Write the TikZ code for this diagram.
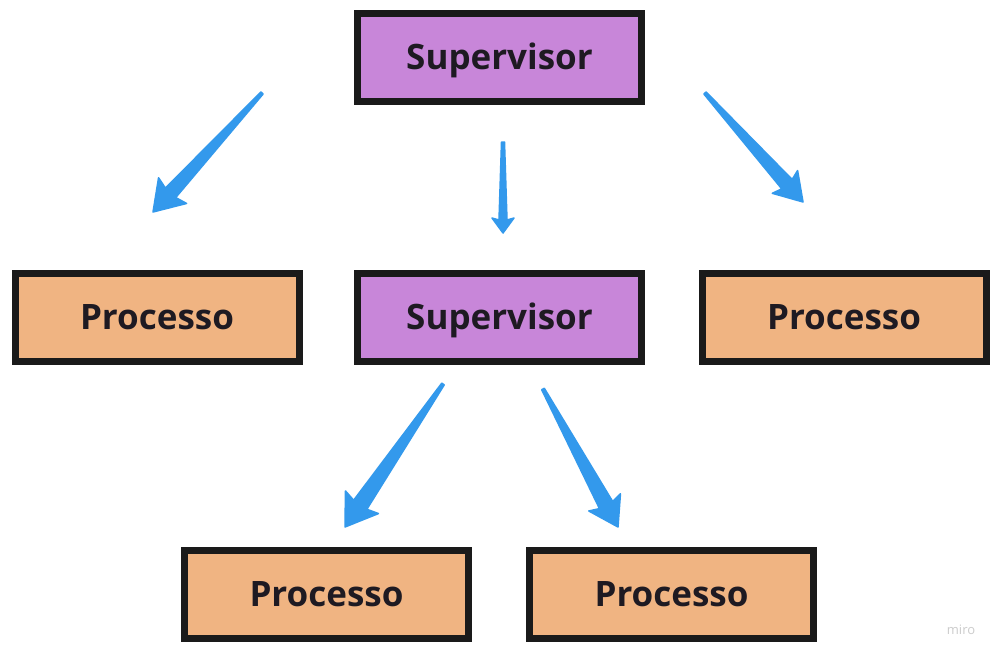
\documentclass[tikz,border=0pt]{standalone}
\usepackage{fontspec}
\setmainfont{Open Sans}
\usetikzlibrary{calc}
\definecolor{supfill}{HTML}{C886D9}
\definecolor{procfill}{HTML}{F0B482}
\definecolor{boxline}{HTML}{1A1A1A}
\definecolor{txt}{HTML}{1E1A22}
\definecolor{arrowblue}{HTML}{3399EC}
\definecolor{watermark}{HTML}{CCCCCC}
\tikzset{
  box/.style={draw=boxline, line width=7pt, minimum width=284pt, minimum height=88pt,
    inner sep=0pt, text height=23pt, text depth=0pt,
    font=\fontsize{35}{42}\selectfont\bfseries, text=txt},
  sup/.style={box, fill=supfill},
  proc/.style={box, fill=procfill},
  arrowfill/.style={fill=arrowblue, draw=arrowblue, line width=1.5pt, line join=round}
}
% #1 tail, #2 tip, #3 head length, #4 barb sweep length, #5 head half width, #6 shaft half width
\newcommand\taparrow[6]{%
  \path ($(#2)!#3pt!(#1)$) coordinate (hb) ($(#2)!#4pt!(#1)$) coordinate (hc);
  \filldraw[arrowfill]
    ($(#1)!1.5pt!90:(#2)$) -- ($(hb)!#6pt!90:(#2)$) -- ($(hc)!#5pt!90:(#2)$) -- (#2)
    -- ($(hc)!#5pt!-90:(#2)$) -- ($(hb)!#6pt!-90:(#2)$) -- ($(#1)!1.5pt!-90:(#2)$) -- cycle;
}
\begin{document}
\begin{tikzpicture}[x=1pt,y=-1pt]
\useasboundingbox[fill=white] (0,0) rectangle (1000,658);
\node[sup]  (s1) at (499.5,58)    {Supervisor};
\node[sup]  (s2) at (499.5,317.5) {Supervisor};
\node[proc] (p1) at (157,317.5)   {Processo};
\node[proc] (p2) at (844,317.5)   {Processo};
\node[proc] (p3) at (326.5,594.5) {Processo};
\node[proc] (p4) at (671.5,594.5) {Processo};
\node[text=watermark, font=\fontsize{13}{15}\selectfont] (wm) at (961,630) {miro};
\coordinate (a1s) at (262,93);  \coordinate (a1e) at (153,212);
\coordinate (a2s) at (503,142); \coordinate (a2e) at (503,233);
\coordinate (a3s) at (705,93);  \coordinate (a3e) at (803,202);
\coordinate (a4s) at (443,384); \coordinate (a4e) at (345,527);
\coordinate (a5s) at (543,389); \coordinate (a5e) at (618,527);
\taparrow{a1s}{a1e}{26}{29}{19}{7}
\taparrow{a2s}{a2e}{13}{15}{11}{4}
\taparrow{a3s}{a3e}{24}{27}{17}{7}
\taparrow{a4s}{a4e}{27}{30}{20}{8}
\taparrow{a5s}{a5e}{25}{28}{18}{7.5}
\end{tikzpicture}
\end{document}
